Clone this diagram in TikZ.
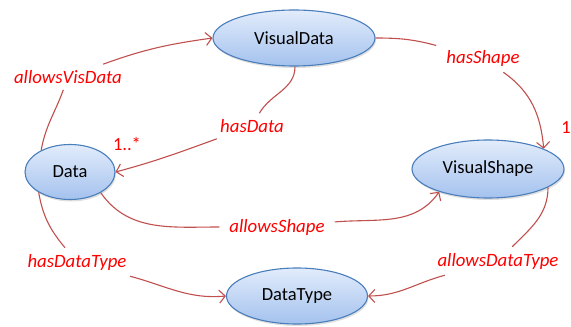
\documentclass[tikz,border=0pt]{standalone}
\usepackage{fontspec}
\setmainfont{Carlito}
\usetikzlibrary{shapes.geometric,arrows.meta,shadows}
\definecolor{edgered}{HTML}{C0504D}
\definecolor{labred}{HTML}{FF0000}
\definecolor{ellborder}{HTML}{4A7EBB}
\definecolor{elltop}{HTML}{E2ECFB}
\definecolor{ellbot}{HTML}{A4C2EE}
\tikzset{
  cls/.style={ellipse, draw=ellborder, line width=1.1pt, top color=elltop, bottom color=ellbot,
    inner sep=0pt, font=\fontsize{18.5}{22}\selectfont,
    drop shadow={opacity=0.25, shadow xshift=1pt, shadow yshift=-2pt}},
  lab/.style={text=labred, font=\fontsize{18.8}{22}\selectfont\itshape, inner xsep=10pt, inner ysep=6pt},
  mult/.style={text=labred, font=\fontsize{18.5}{22}\selectfont, inner sep=0pt},
  rel/.style={draw=edgered, line width=1.1pt},
  relarrow/.style={rel, -{Straight Barb[length=6pt,width=13pt,line width=1.1pt]}}
}
\begin{document}
\begin{tikzpicture}[x=1pt,y=1pt]
\useasboundingbox (0,0) rectangle (571,327);
% classes
\node[cls, minimum width=162pt, minimum height=56pt] (vd) at (294,289) {VisualData};
\node[cls, minimum width=90pt, minimum height=55pt] (data) at (70,155) {Data};
\node[cls, minimum width=152pt, minimum height=58pt] (vs) at (488,158) {VisualShape};
\node[cls, minimum width=141pt, minimum height=56pt] (dt) at (297,31) {DataType};
% labels
\node[lab] (l1) at (68,250) {allowsVisData};
\node[lab] (l2) at (252,201) {hasData};
\node[mult] (m1) at (127,183) {1..*};
\node[lab] (l3) at (483,269) {hasShape};
\node[mult, anchor=east] (m2) at (571,199) {1};
\node[lab] (l4) at (277,100) {allowsShape};
\node[lab] (l5) at (498,66) {allowsDataType};
\node[lab] (l6) at (77,65) {hasDataType};
% connectors
\draw[rel] (data.143) to[out=80,in=250] (l1);
\draw[relarrow] (l1) to[out=20,in=188] (vd.west);
\draw[rel] (vd.-88) to[out=-90,in=60] (l2);
\draw[relarrow] (l2) to[out=200,in=15] (data.east);
\draw[rel] (vd.east) to[out=0,in=165] (l3);
\draw[relarrow] (l3) to[out=-35,in=95] (vs.20);
\draw[rel] (data.-34) to[out=-55,in=180] (l4);
\draw[relarrow] (l4) to[out=5,in=235] (vs.205);
\draw[rel] (vs.-17) to[out=-90,in=45] (l5);
\draw[relarrow] (l5) to[out=195,in=0] (dt.east);
\draw[rel] (data.213) to[out=-80,in=130] (l6);
\draw[relarrow] (l6) to[out=-15,in=185] (dt.west);
\end{tikzpicture}
\end{document}
